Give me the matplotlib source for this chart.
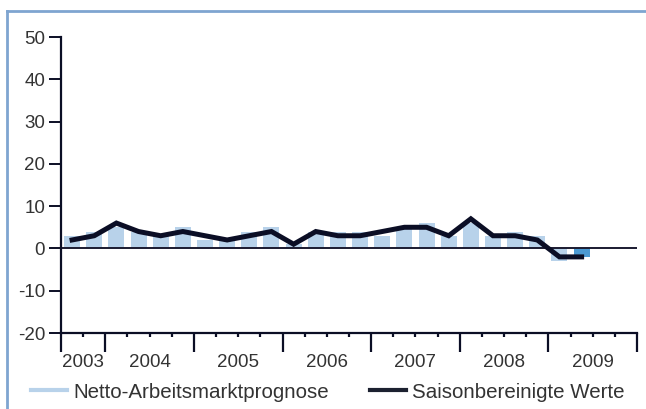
import matplotlib

matplotlib.use("Agg")
import matplotlib.pyplot as plt
import numpy as np
from matplotlib.lines import Line2D
from matplotlib.transforms import blended_transform_factory

plt.rcParams["font.family"] = ["Liberation Sans", "DejaVu Sans"]

# quarterly values, 2003 Q3 .. 2009 Q2
forecast = [3, 4, 5, 4, 3, 5, 2, 2, 4, 5, 1, 4, 4, 4, 3, 5, 6, 3, 6, 3, 4, 3, -3, -2]
seasonal = [2, 3, 6, 4, 3, 4, 3, 2, 3, 4, 1, 4, 3, 3, 4, 5, 5, 3, 7, 3, 3, 2, -2, -2]
years = ["2003", "2004", "2005", "2006", "2007", "2008", "2009"]
quarters_per_year = [2, 4, 4, 4, 4, 4, 4]
yticks = [-20, -10, 0, 10, 20, 30, 40, 50]

LIGHT = "#b8d2ea"
DARK_BAR = "#4c9ad3"
INK = "#0b0e25"
FRAME = "#7fa5d0"
TEXT = "#333333"

fig = plt.figure(figsize=(6.46, 4.09), dpi=100)
ax = fig.add_axes([61 / 646, 1 - 333 / 409, 576 / 646, 296 / 409])

x = np.arange(len(forecast)) + 0.5
colors = [LIGHT] * (len(forecast) - 1) + [DARK_BAR]
ax.bar(x, forecast, width=0.72, color=colors, zorder=1)
ax.axhline(0, color="#1a1a30", lw=1.4, zorder=2)
ax.plot(x, seasonal, color=INK, lw=3.6, solid_joinstyle="miter", zorder=3)

n_q = sum(quarters_per_year)
ax.set_xlim(0, n_q)
ax.set_ylim(-20, 50)
ax.set_yticks(yticks)
ax.set_yticklabels([str(v) for v in yticks])

bounds = np.concatenate([[0], np.cumsum(quarters_per_year)])
ax.set_xticks(bounds)
ax.set_xticklabels([])
ax.set_xticks([q for q in range(n_q + 1) if q not in bounds], minor=True)
ax.tick_params(axis="x", which="major", length=14, width=1.6, color=INK, direction="out")
ax.tick_params(axis="x", which="minor", length=3, width=1.6, color=INK, direction="out")
ax.tick_params(axis="y", length=8.5, width=1.4, color=INK, labelsize=13.5, pad=3,
               labelcolor=TEXT)

trans = blended_transform_factory(ax.transData, ax.transAxes)
for i, yr in enumerate(years):
    ax.text((bounds[i] + bounds[i + 1]) / 2, -0.098, yr, transform=trans,
            ha="center", va="center", fontsize=13.5, color=TEXT)

for s in ["top", "right"]:
    ax.spines[s].set_visible(False)
for s in ["left", "bottom"]:
    ax.spines[s].set_color(INK)
    ax.spines[s].set_linewidth(1.6)

handles = [Line2D([], [], color=LIGHT, lw=3),
           Line2D([], [], color="#1c2130", lw=3)]
fig.legend(handles, ["Netto-Arbeitsmarktprognose", "Saisonbereinigte Werte"],
           loc="center left", bbox_to_anchor=(31 / 646, 1 - 392 / 409), ncol=2,
           frameon=False, fontsize=14.8, handlelength=1.75, handletextpad=0.3,
           columnspacing=2.0, borderaxespad=0, borderpad=0, labelcolor=TEXT)

# light blue frame on top and left
fig.add_artist(Line2D([7 / 646, 7 / 646], [0, 1 - 11 / 409], transform=fig.transFigure,
                      color=FRAME, lw=2))
fig.add_artist(Line2D([7 / 646, 1], [1 - 11 / 409, 1 - 11 / 409], transform=fig.transFigure,
                      color=FRAME, lw=2))

fig.savefig("out.png", dpi=100)
